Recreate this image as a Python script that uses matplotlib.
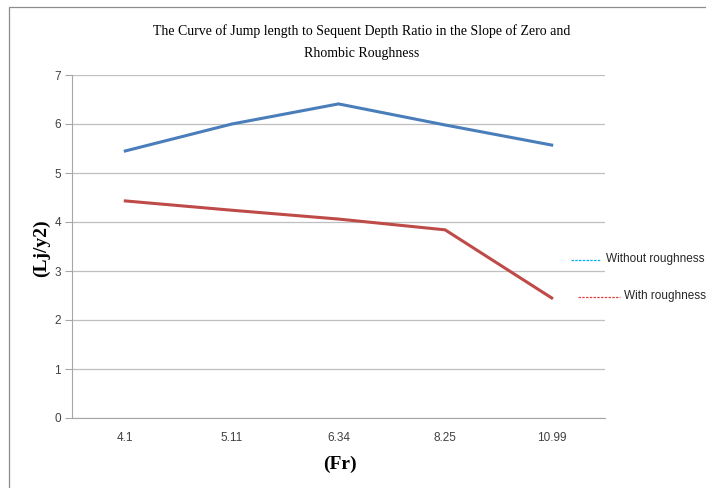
import matplotlib.pyplot as plt
from matplotlib.lines import Line2D
from matplotlib.patches import Rectangle

# Froude numbers and jump length / sequent depth ratio
fr_labels = ["4.1", "5.11", "6.34", "8.25", "10.99"]
without_roughness = [5.45, 6.0, 6.41, 5.98, 5.57]
with_roughness = [4.43, 4.24, 4.06, 3.84, 2.45]

W, H = 706, 488
fig = plt.figure(figsize=(W / 100, H / 100), dpi=100)

# outer chart frame (runs off the right and bottom edges)
fig.add_artist(Rectangle((9 / W, -0.1), 1.2, 1.1 - 7 / H, transform=fig.transFigure,
                         fill=False, edgecolor="#8c8c8c", linewidth=0.9))

ax = fig.add_axes([72 / W, 1 - 418 / H, (605 - 72) / W, (418 - 75) / H])
x = range(len(fr_labels))
ax.plot(x, without_roughness, color="#4a7ebb", linewidth=2.2)
ax.plot(x, with_roughness, color="#be4b48", linewidth=2.2)

ax.set_xlim(-0.5, len(fr_labels) - 0.5)
ax.set_ylim(0, 7)
ax.set_xticks(list(x))
ax.set_xticklabels(fr_labels)
ax.set_yticks(range(8))
ax.yaxis.grid(True, color="#bfbfbf", linewidth=0.9)
ax.set_axisbelow(True)
for side in ["top", "right"]:
    ax.spines[side].set_visible(False)
for side in ["left", "bottom"]:
    ax.spines[side].set_color("#a6a6a6")
ax.tick_params(axis="x", length=0, pad=10, labelsize=8.5, colors="#404040")
ax.tick_params(axis="y", length=5, width=0.8, color="#a6a6a6", pad=3, labelsize=8.5,
               labelcolor="#404040")
for lbl in ax.get_xticklabels() + ax.get_yticklabels():
    lbl.set_family("Liberation Sans")

fig.text(362 / W, 1 - 31 / H, "The Curve of Jump length to Sequent Depth Ratio in the Slope of Zero and",
         ha="center", va="center", family="Liberation Serif", fontsize=10)
fig.text(362 / W, 1 - 53 / H, "Rhombic Roughness",
         ha="center", va="center", family="Liberation Serif", fontsize=10)
fig.text(41 / W, 1 - 248 / H, "(Lj/y2)", rotation=90, ha="center", va="center",
         family="Liberation Serif", fontweight="bold", fontsize=14)
fig.text(340 / W, 1 - 464 / H, "(Fr)", ha="center", va="center",
         family="Liberation Serif", fontweight="bold", fontsize=14)

# legend drawn by hand on the right side
fig.add_artist(Line2D([571 / W, 601 / W], [1 - 260 / H] * 2, transform=fig.transFigure,
                      color="#00b0f0", linewidth=0.9, linestyle=(0, (2, 1))))
fig.text(606 / W, 1 - 259 / H, "Without roughness", ha="left", va="center",
         family="Liberation Sans", fontsize=8.5, color="#262626")
fig.add_artist(Line2D([578 / W, 620 / W], [1 - 297 / H] * 2, transform=fig.transFigure,
                      color="#e0443e", linewidth=0.9, linestyle=(0, (2, 1))))
fig.text(624 / W, 1 - 296 / H, "With roughness", ha="left", va="center",
         family="Liberation Sans", fontsize=8.5, color="#262626")

fig.savefig("out.png", dpi=100)
